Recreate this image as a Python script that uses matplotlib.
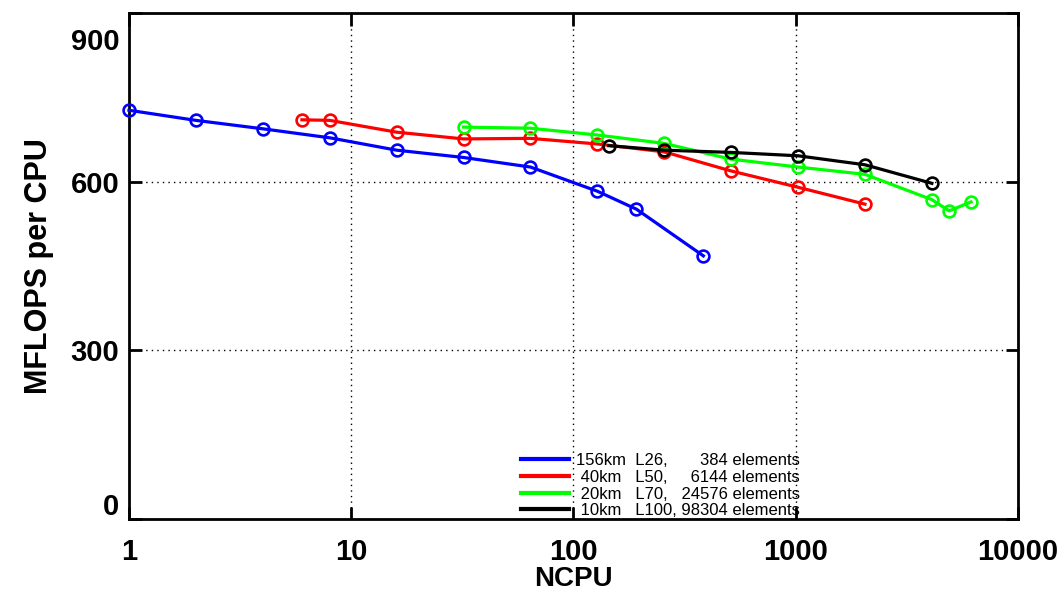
import numpy as np
import matplotlib
matplotlib.use("Agg")
import matplotlib.pyplot as plt
import matplotlib.transforms as mtransforms
from matplotlib.lines import Line2D
from matplotlib.ticker import FixedLocator, NullLocator

plt.rcParams["font.family"] = ["Liberation Sans", "DejaVu Sans"]

# data
ncpu_156 = [1, 2, 4, 8, 16, 32, 64, 128, 192, 384]
mflops_156 = [727, 709, 694, 678, 656, 643, 626, 583, 551, 468]

ncpu_40 = [6, 8, 16, 32, 64, 128, 256, 512, 1024, 2048]
mflops_40 = [710, 709, 688, 676, 677, 667, 653, 619, 590, 560]

ncpu_20 = [32, 64, 128, 256, 512, 1024, 2048, 4096, 4900, 6144]
mflops_20 = [697, 695, 683, 668, 640, 626, 613, 568, 548, 564]

ncpu_10 = [144, 256, 512, 1024, 2048, 4096]
mflops_10 = [664, 656, 652, 646, 630, 597]

labels = ["156km  L26,       384 elements",
          " 40km   L50,     6144 elements",
          " 20km   L70,   24576 elements",
          " 10km   L100, 98304 elements"]
colors = ["#0000ff", "#ff0000", "#00ff00", "#000000"]

xticks = [1, 10, 100, 1000, 10000]
yticks = [0, 300, 600, 900]

series = [(ncpu_156, mflops_156), (ncpu_40, mflops_40),
          (ncpu_20, mflops_20), (ncpu_10, mflops_10)]

fig = plt.figure(figsize=(10.64, 5.95), dpi=100)
ax = fig.add_axes([0.1212, 0.1277, 0.8356, 0.8505])

for (x, y), c in zip(series, colors):
    ax.plot(x, y, "-o", color=c, linewidth=2.3, markersize=8.5,
            markerfacecolor="none", markeredgewidth=1.9, clip_on=False, zorder=3)

ax.set_xscale("log")
ax.set_xlim(1, 10000)
ax.set_ylim(0, 900)
ax.xaxis.set_major_locator(FixedLocator(xticks))
ax.xaxis.set_minor_locator(NullLocator())
ax.set_xticklabels([str(t) for t in xticks])
ax.set_yticks(yticks)
ax.set_yticklabels([str(t) for t in yticks])

ax.grid(True, which="major", color="black", linestyle=(0, (1, 3)), linewidth=1.0)
ax.tick_params(direction="in", length=9, width=2, top=True, right=True,
               labelsize=21)
ax.tick_params(axis="x", pad=14)
ax.tick_params(axis="y", pad=7)
for lab in ax.get_xticklabels() + ax.get_yticklabels():
    lab.set_fontweight("bold")

# matlab-ish placement of the end labels on the y axis
ylabs = ax.get_yticklabels()
ylabs[0].set_transform(ylabs[0].get_transform() +
                       mtransforms.ScaledTranslation(0, 15 / 100, fig.dpi_scale_trans))
ylabs[-1].set_transform(ylabs[-1].get_transform() +
                        mtransforms.ScaledTranslation(0, -26 / 100, fig.dpi_scale_trans))

for s in ax.spines.values():
    s.set_linewidth(2)

ax.set_xlabel("NCPU", fontsize=20, fontweight="bold", labelpad=0)
ax.set_ylabel("MFLOPS per CPU", fontsize=22, fontweight="bold", labelpad=12)

handles = [Line2D([], [], color=c, linewidth=3) for c in colors]
ax.legend(handles, labels, loc="lower left", bbox_to_anchor=(0.44, 0.0),
          frameon=False, fontsize=12, handlelength=2.9, handletextpad=0.4,
          labelspacing=0.1, borderpad=0.05, borderaxespad=0.0)

fig.savefig("out.png", dpi=100)
